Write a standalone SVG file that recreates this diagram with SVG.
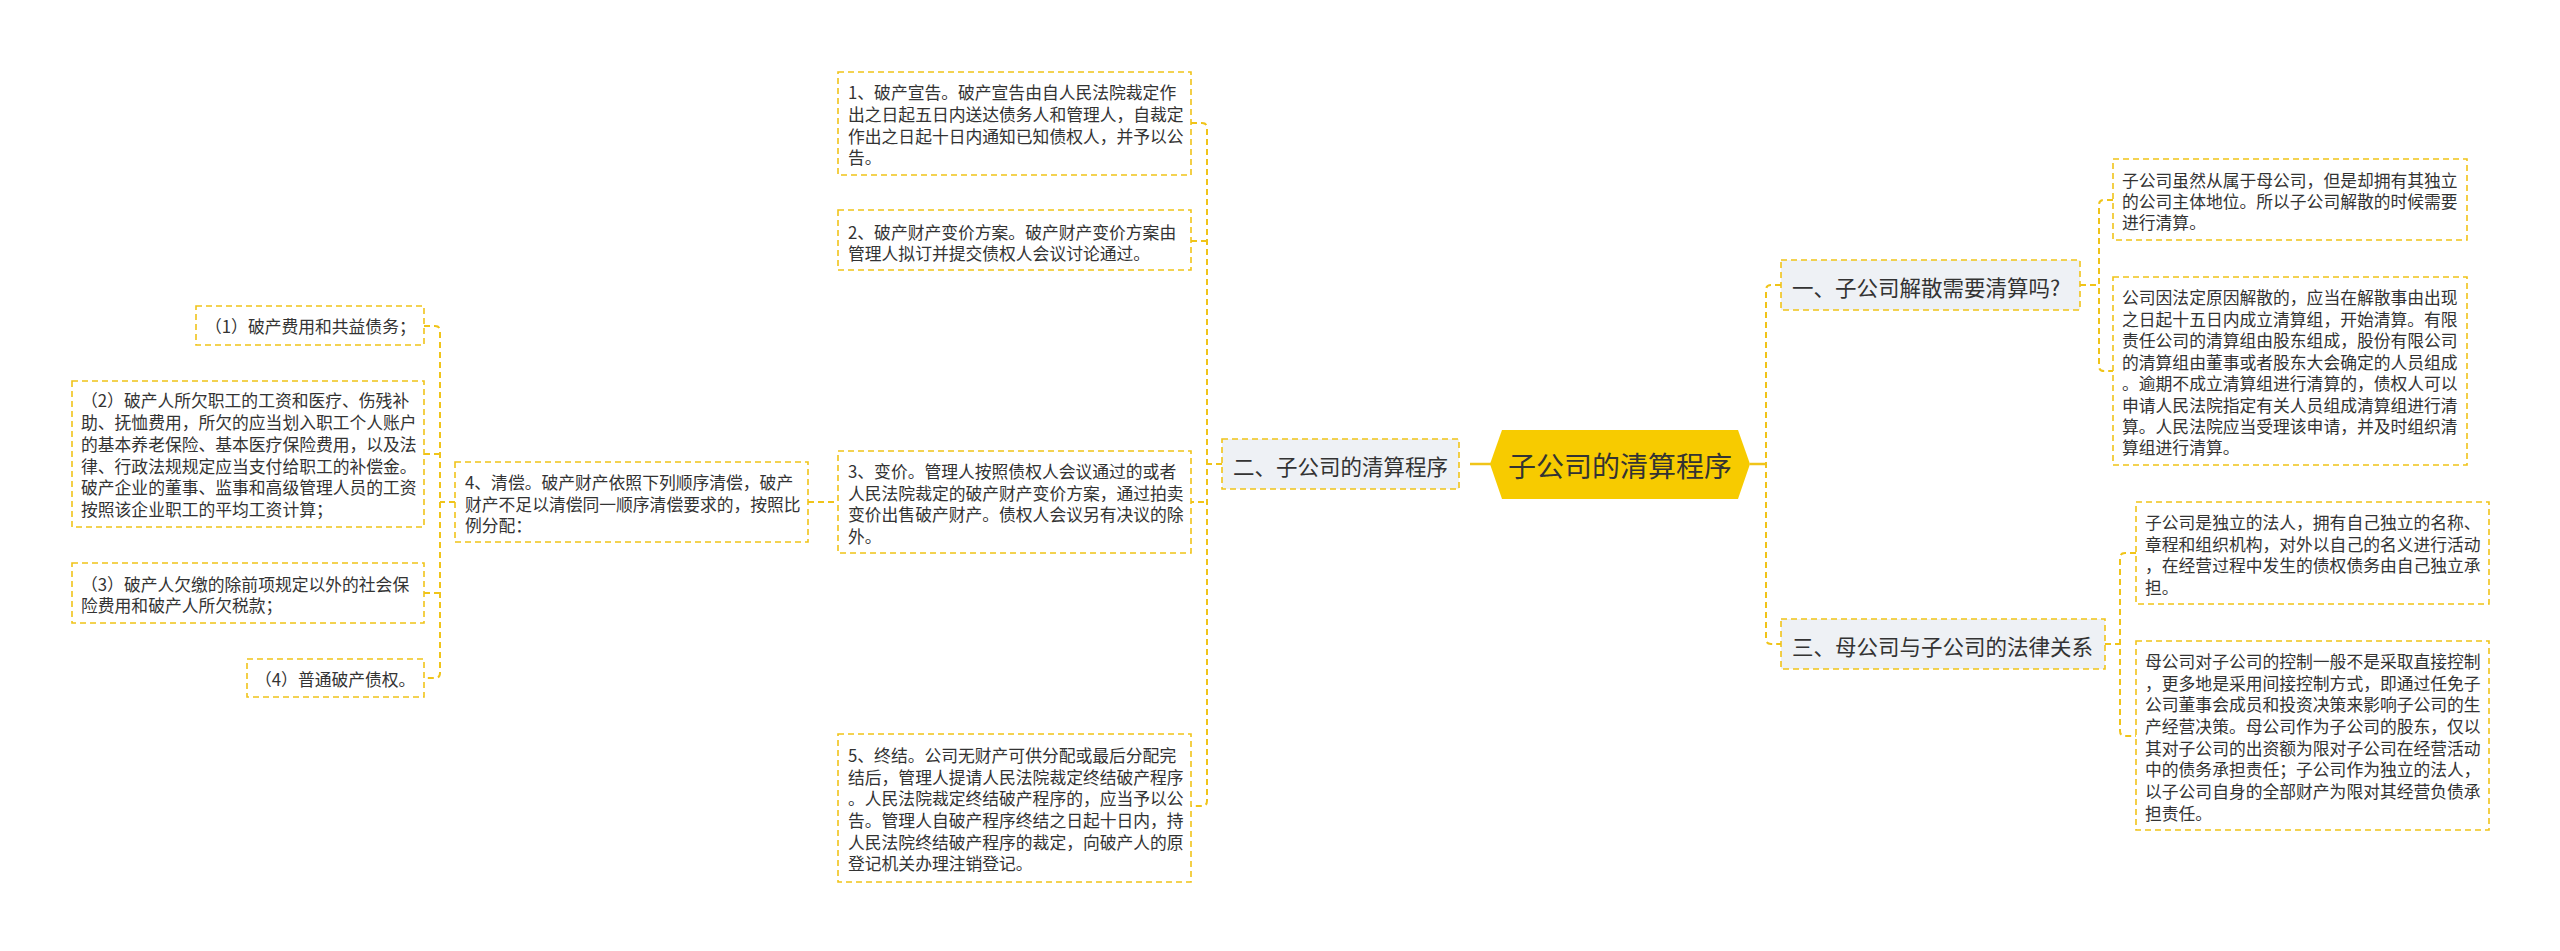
<svg xmlns="http://www.w3.org/2000/svg" width="2560" height="951" viewBox="0 0 2560 951">
<style>
.bg{fill:#ffffff}
.leaf{fill:#ffffff;stroke:#f0c419;stroke-width:1.6;stroke-dasharray:6 4}
.sub{fill:#eef1f5;stroke:#f0c419;stroke-width:1.6;stroke-dasharray:6 4}
.root{fill:#f7cb00}
.conn{fill:none;stroke:#f0c419;stroke-width:2;stroke-dasharray:6 4}
.solid{fill:none;stroke:#f0c419;stroke-width:2.5}
text{font-family:"Noto Sans CJK SC","Noto Sans",sans-serif;fill:#333333;dominant-baseline:central}
.t{font-size:16.8px}
.ts{font-size:21.5px}
.tr{font-size:28px}
</style>
<rect class="bg" x="0" y="0" width="2560" height="951"/>
<g id="connectors">
  <path class="solid" d="M1470,464 L1492,464"/>
  <path class="solid" d="M1750,464 L1766,464"/>
  <path class="conn" d="M1222,464 L1207,464"/>
  <path class="conn" d="M1191,123 L1202,123 Q1207,123 1207,128 L1207,801 Q1207,806 1202,806 L1191,806"/>
  <path class="conn" d="M1191,241 L1207,241"/>
  <path class="conn" d="M808,502 L1207,502"/>
  <path class="conn" d="M455,502 L440,502"/>
  <path class="conn" d="M424,326 L435,326 Q440,326 440,331 L440,673 Q440,678 435,678 L424,678"/>
  <path class="conn" d="M424,454 L440,454"/>
  <path class="conn" d="M424,593 L440,593"/>
  <path class="conn" d="M1781,285 L1771,285 Q1766,285 1766,290 L1766,639 Q1766,644 1771,644 L1781,644"/>
  <path class="conn" d="M2080,285 L2099,285"/>
  <path class="conn" d="M2113,200 L2104,200 Q2099,200 2099,205 L2099,366 Q2099,371 2104,371 L2113,371"/>
  <path class="conn" d="M2105,644 L2120,644"/>
  <path class="conn" d="M2136,553 L2125,553 Q2120,553 2120,558 L2120,731 Q2120,736 2125,736 L2136,736"/>
</g>
<g id="root">
  <polygon class="root" points="1490,464 1502,430 1738,430 1750,464 1738,499 1502,499"/>
  <text class="tr" x="1620" y="465" text-anchor="middle">子公司的清算程序</text>
</g>
<g id="n2">
  <rect class="sub" x="1222" y="439" width="237" height="50"/>
  <text class="ts" x="1233" y="465">二、子公司的清算程序</text>
</g>
<g id="n2-1">
  <rect class="leaf" x="838" y="72" width="353" height="103"/>
  <text class="t" x="848" y="92">1、破产宣告。破产宣告由自人民法院裁定作</text>
  <text class="t" x="848" y="114">出之日起五日内送达债务人和管理人，自裁定</text>
  <text class="t" x="848" y="135.5">作出之日起十日内通知已知债权人，并予以公</text>
  <text class="t" x="848" y="157">告。</text>
</g>
<g id="n2-2">
  <rect class="leaf" x="838" y="210" width="353" height="60"/>
  <text class="t" x="848" y="231.5">2、破产财产变价方案。破产财产变价方案由</text>
  <text class="t" x="848" y="253">管理人拟订并提交债权人会议讨论通过。</text>
</g>
<g id="n2-3">
  <rect class="leaf" x="838" y="451" width="353" height="102"/>
  <text class="t" x="848" y="471">3、变价。管理人按照债权人会议通过的或者</text>
  <text class="t" x="848" y="492.5">人民法院裁定的破产财产变价方案，通过拍卖</text>
  <text class="t" x="848" y="514">变价出售破产财产。债权人会议另有决议的除</text>
  <text class="t" x="848" y="536">外。</text>
</g>
<g id="n2-4">
  <rect class="leaf" x="455" y="462" width="353" height="80"/>
  <text class="t" x="465" y="482">4、清偿。破产财产依照下列顺序清偿，破产</text>
  <text class="t" x="465" y="503.5">财产不足以清偿同一顺序清偿要求的，按照比</text>
  <text class="t" x="465" y="525">例分配：</text>
</g>
<g id="n2-4-1">
  <rect class="leaf" x="196" y="306" width="228" height="39"/>
  <text class="t" x="205" y="326">（1）破产费用和共益债务；</text>
</g>
<g id="n2-4-2">
  <rect class="leaf" x="72" y="381" width="352" height="146"/>
  <text class="t" x="81" y="400">（2）破产人所欠职工的工资和医疗、伤残补</text>
  <text class="t" x="81" y="422">助、抚恤费用，所欠的应当划入职工个人账户</text>
  <text class="t" x="81" y="444">的基本养老保险、基本医疗保险费用，以及法</text>
  <text class="t" x="81" y="465.5">律、行政法规规定应当支付给职工的补偿金。</text>
  <text class="t" x="81" y="487">破产企业的董事、监事和高级管理人员的工资</text>
  <text class="t" x="81" y="509">按照该企业职工的平均工资计算；</text>
</g>
<g id="n2-4-3">
  <rect class="leaf" x="72" y="563" width="352" height="60"/>
  <text class="t" x="81" y="583.5">（3）破产人欠缴的除前项规定以外的社会保</text>
  <text class="t" x="81" y="604.5">险费用和破产人所欠税款；</text>
</g>
<g id="n2-4-4">
  <rect class="leaf" x="247" y="659" width="177" height="38"/>
  <text class="t" x="255" y="678.5">（4）普通破产债权。</text>
</g>
<g id="n2-5">
  <rect class="leaf" x="838" y="734" width="353" height="148"/>
  <text class="t" x="848" y="755">5、终结。公司无财产可供分配或最后分配完</text>
  <text class="t" x="848" y="776.5">结后，管理人提请人民法院裁定终结破产程序</text>
  <text class="t" x="848" y="798">。人民法院裁定终结破产程序的，应当予以公</text>
  <text class="t" x="848" y="820">告。管理人自破产程序终结之日起十日内，持</text>
  <text class="t" x="848" y="841.5">人民法院终结破产程序的裁定，向破产人的原</text>
  <text class="t" x="848" y="863">登记机关办理注销登记。</text>
</g>
<g id="n1">
  <rect class="sub" x="1781" y="260" width="299" height="50"/>
  <text class="ts" x="1792" y="286">一、子公司解散需要清算吗?</text>
</g>
<g id="n1-1">
  <rect class="leaf" x="2113" y="159" width="354" height="81"/>
  <text class="t" x="2122" y="179.5">子公司虽然从属于母公司，但是却拥有其独立</text>
  <text class="t" x="2122" y="201">的公司主体地位。所以子公司解散的时候需要</text>
  <text class="t" x="2122" y="222">进行清算。</text>
</g>
<g id="n1-2">
  <rect class="leaf" x="2113" y="277" width="354" height="188"/>
  <text class="t" x="2122" y="297">公司因法定原因解散的，应当在解散事由出现</text>
  <text class="t" x="2122" y="318.5">之日起十五日内成立清算组，开始清算。有限</text>
  <text class="t" x="2122" y="340">责任公司的清算组由股东组成，股份有限公司</text>
  <text class="t" x="2122" y="361.5">的清算组由董事或者股东大会确定的人员组成</text>
  <text class="t" x="2122" y="383">。逾期不成立清算组进行清算的，债权人可以</text>
  <text class="t" x="2122" y="404.5">申请人民法院指定有关人员组成清算组进行清</text>
  <text class="t" x="2122" y="426">算。人民法院应当受理该申请，并及时组织清</text>
  <text class="t" x="2122" y="447">算组进行清算。</text>
</g>
<g id="n3">
  <rect class="sub" x="1781" y="619" width="324" height="50"/>
  <text class="ts" x="1792" y="645">三、母公司与子公司的法律关系</text>
</g>
<g id="n3-1">
  <rect class="leaf" x="2136" y="502" width="353" height="102"/>
  <text class="t" x="2145" y="522">子公司是独立的法人，拥有自己独立的名称、</text>
  <text class="t" x="2145" y="543.5">章程和组织机构，对外以自己的名义进行活动</text>
  <text class="t" x="2145" y="565">，在经营过程中发生的债权债务由自己独立承</text>
  <text class="t" x="2145" y="587">担。</text>
</g>
<g id="n3-2">
  <rect class="leaf" x="2136" y="641" width="353" height="189"/>
  <text class="t" x="2145" y="661">母公司对子公司的控制一般不是采取直接控制</text>
  <text class="t" x="2145" y="682.5">，更多地是采用间接控制方式，即通过任免子</text>
  <text class="t" x="2145" y="704">公司董事会成员和投资决策来影响子公司的生</text>
  <text class="t" x="2145" y="725.5">产经营决策。母公司作为子公司的股东，仅以</text>
  <text class="t" x="2145" y="747.5">其对子公司的出资额为限对子公司在经营活动</text>
  <text class="t" x="2145" y="769">中的债务承担责任；子公司作为独立的法人，</text>
  <text class="t" x="2145" y="791">以子公司自身的全部财产为限对其经营负债承</text>
  <text class="t" x="2145" y="812.5">担责任。</text>
</g>
</svg>
